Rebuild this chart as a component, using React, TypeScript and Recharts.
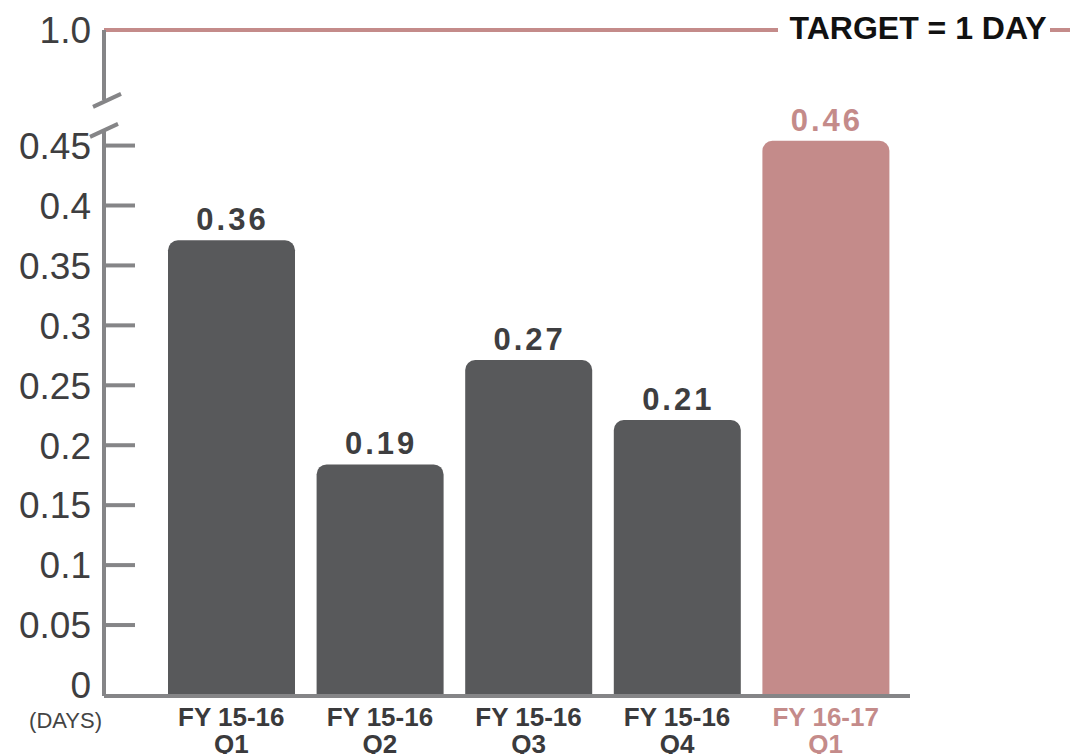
import { BarChart, Bar, XAxis, YAxis, Cell, LabelList, ReferenceLine } from "recharts";

const QUARTER_FY = ["FY 15-16", "FY 15-16", "FY 15-16", "FY 15-16", "FY 16-17"];
const QUARTER_Q = ["Q1", "Q2", "Q3", "Q4", "Q1"];
// bar heights as drawn (days) and the printed labels
const AVG_DAYS = [0.371, 0.184, 0.271, 0.221, 0.454];
const DAY_LABELS = ["0.36", "0.19", "0.27", "0.21", "0.46"];
const Y_TICKS = [0, 0.05, 0.1, 0.15, 0.2, 0.25, 0.3, 0.35, 0.4, 0.45];
const Y_MIN = -0.0092;
const BREAK_AT = 0.4756; // axis break marks
const TARGET_AT = 0.5464; // 1.0 day, drawn above the break
const TARGET_LABEL = "TARGET = 1 DAY";
const HIGHLIGHT = 4;

const DARK = "#58595b";
const PINK = "#c48b8a";
const AXIS = "#858587";
const FONT = "'Liberation Sans', Arial, sans-serif";

const data = QUARTER_FY.map((fy, i) => ({
  name: `${fy} ${QUARTER_Q[i]}`,
  span: [Y_MIN, AVG_DAYS[i]],
}));

function YTick(props: any) {
  const { x, y, payload } = props;
  const v = payload.value;
  if (v === BREAK_AT) {
    return (
      <g stroke={AXIS} strokeWidth={4}>
        <line x1={x - 11} y1={y - 8} x2={x + 17} y2={y - 21} />
        <line x1={x - 14} y1={y + 22} x2={x + 14} y2={y + 9} />
      </g>
    );
  }
  const label = v === TARGET_AT ? "1.0" : String(v);
  return (
    <g>
      {v > 0 && v < TARGET_AT && (
        <line x1={x} y1={y} x2={x + 31} y2={y} stroke={AXIS} strokeWidth={4} />
      )}
      <text x={x - 13} y={y} dy="0.36em" textAnchor="end" fontFamily={FONT} fontSize={37} fill="#3e3e40">
        {label}
      </text>
      {v === 0 && (
        <text x={x - 2} y={y + 43} textAnchor="end" fontFamily={FONT} fontSize={22} fill="#444">
          (DAYS)
        </text>
      )}
    </g>
  );
}

function XTick(props: any) {
  const { x, y, payload, index } = props;
  const s: string = payload.value;
  const cut = s.lastIndexOf(" ");
  const color = index === HIGHLIGHT ? PINK : "#3a3a3c";
  return (
    <g fontFamily={FONT} fontSize={26} fontWeight={700} fill={color} textAnchor="middle">
      <text x={x} y={y + 30}>{s.slice(0, cut)}</text>
      <text x={x} y={y + 57}>{s.slice(cut + 1)}</text>
    </g>
  );
}

function BarValue(props: any) {
  const { x, y, width, index } = props;
  return (
    <text
      x={x + width / 2 + 1}
      y={y - 10}
      textAnchor="middle"
      fontFamily={FONT}
      fontSize={31}
      fontWeight={700}
      letterSpacing={3}
      fill={index === HIGHLIGHT ? PINK : "#3e3e40"}
    >
      {DAY_LABELS[index]}
    </text>
  );
}

function TargetLine(props: any) {
  const { x1, y1, x2 } = props;
  const cx = x2 + 8;
  return (
    <g>
      <line x1={x1} y1={y1} x2={cx - 140} y2={y1} stroke={PINK} strokeWidth={4} />
      <text x={cx} y={y1 + 9} textAnchor="middle" fontFamily={FONT} fontSize={32} fontWeight={700} fill="#111">
        {TARGET_LABEL}
      </text>
      <line x1={cx + 132} y1={y1} x2={cx + 152} y2={y1} stroke={PINK} strokeWidth={4} />
    </g>
  );
}

export default function App() {
  return (
    <div style={{ position: "absolute", left: 0, top: 0, background: "#fff" }}>
      <BarChart width={1084} height={754} data={data} margin={{ top: 30, right: 174, bottom: 0, left: 0 }}>
        <XAxis
          dataKey="name"
          height={58}
          padding={{ left: 53, right: 10 }}
          axisLine={{ stroke: AXIS, strokeWidth: 4 }}
          tickLine={false}
          tickSize={0}
          tickMargin={0}
          interval={0}
          tick={<XTick />}
        />
        <YAxis
          type="number"
          width={104}
          domain={[Y_MIN, TARGET_AT]}
          ticks={[...Y_TICKS, BREAK_AT, TARGET_AT]}
          interval={0}
          axisLine={{ stroke: AXIS, strokeWidth: 4, strokeDasharray: "70 30 1000" }}
          tickLine={false}
          tickSize={0}
          tickMargin={0}
          tick={<YTick />}
        />
        <ReferenceLine y={TARGET_AT} shape={<TargetLine />} />
        <Bar dataKey="span" barSize={127} radius={[10, 10, 0, 0]} isAnimationActive={false}>
          {data.map((_, i) => (
            <Cell key={i} fill={i === HIGHLIGHT ? PINK : DARK} />
          ))}
          <LabelList dataKey="span" content={<BarValue />} />
        </Bar>
      </BarChart>
    </div>
  );
}
